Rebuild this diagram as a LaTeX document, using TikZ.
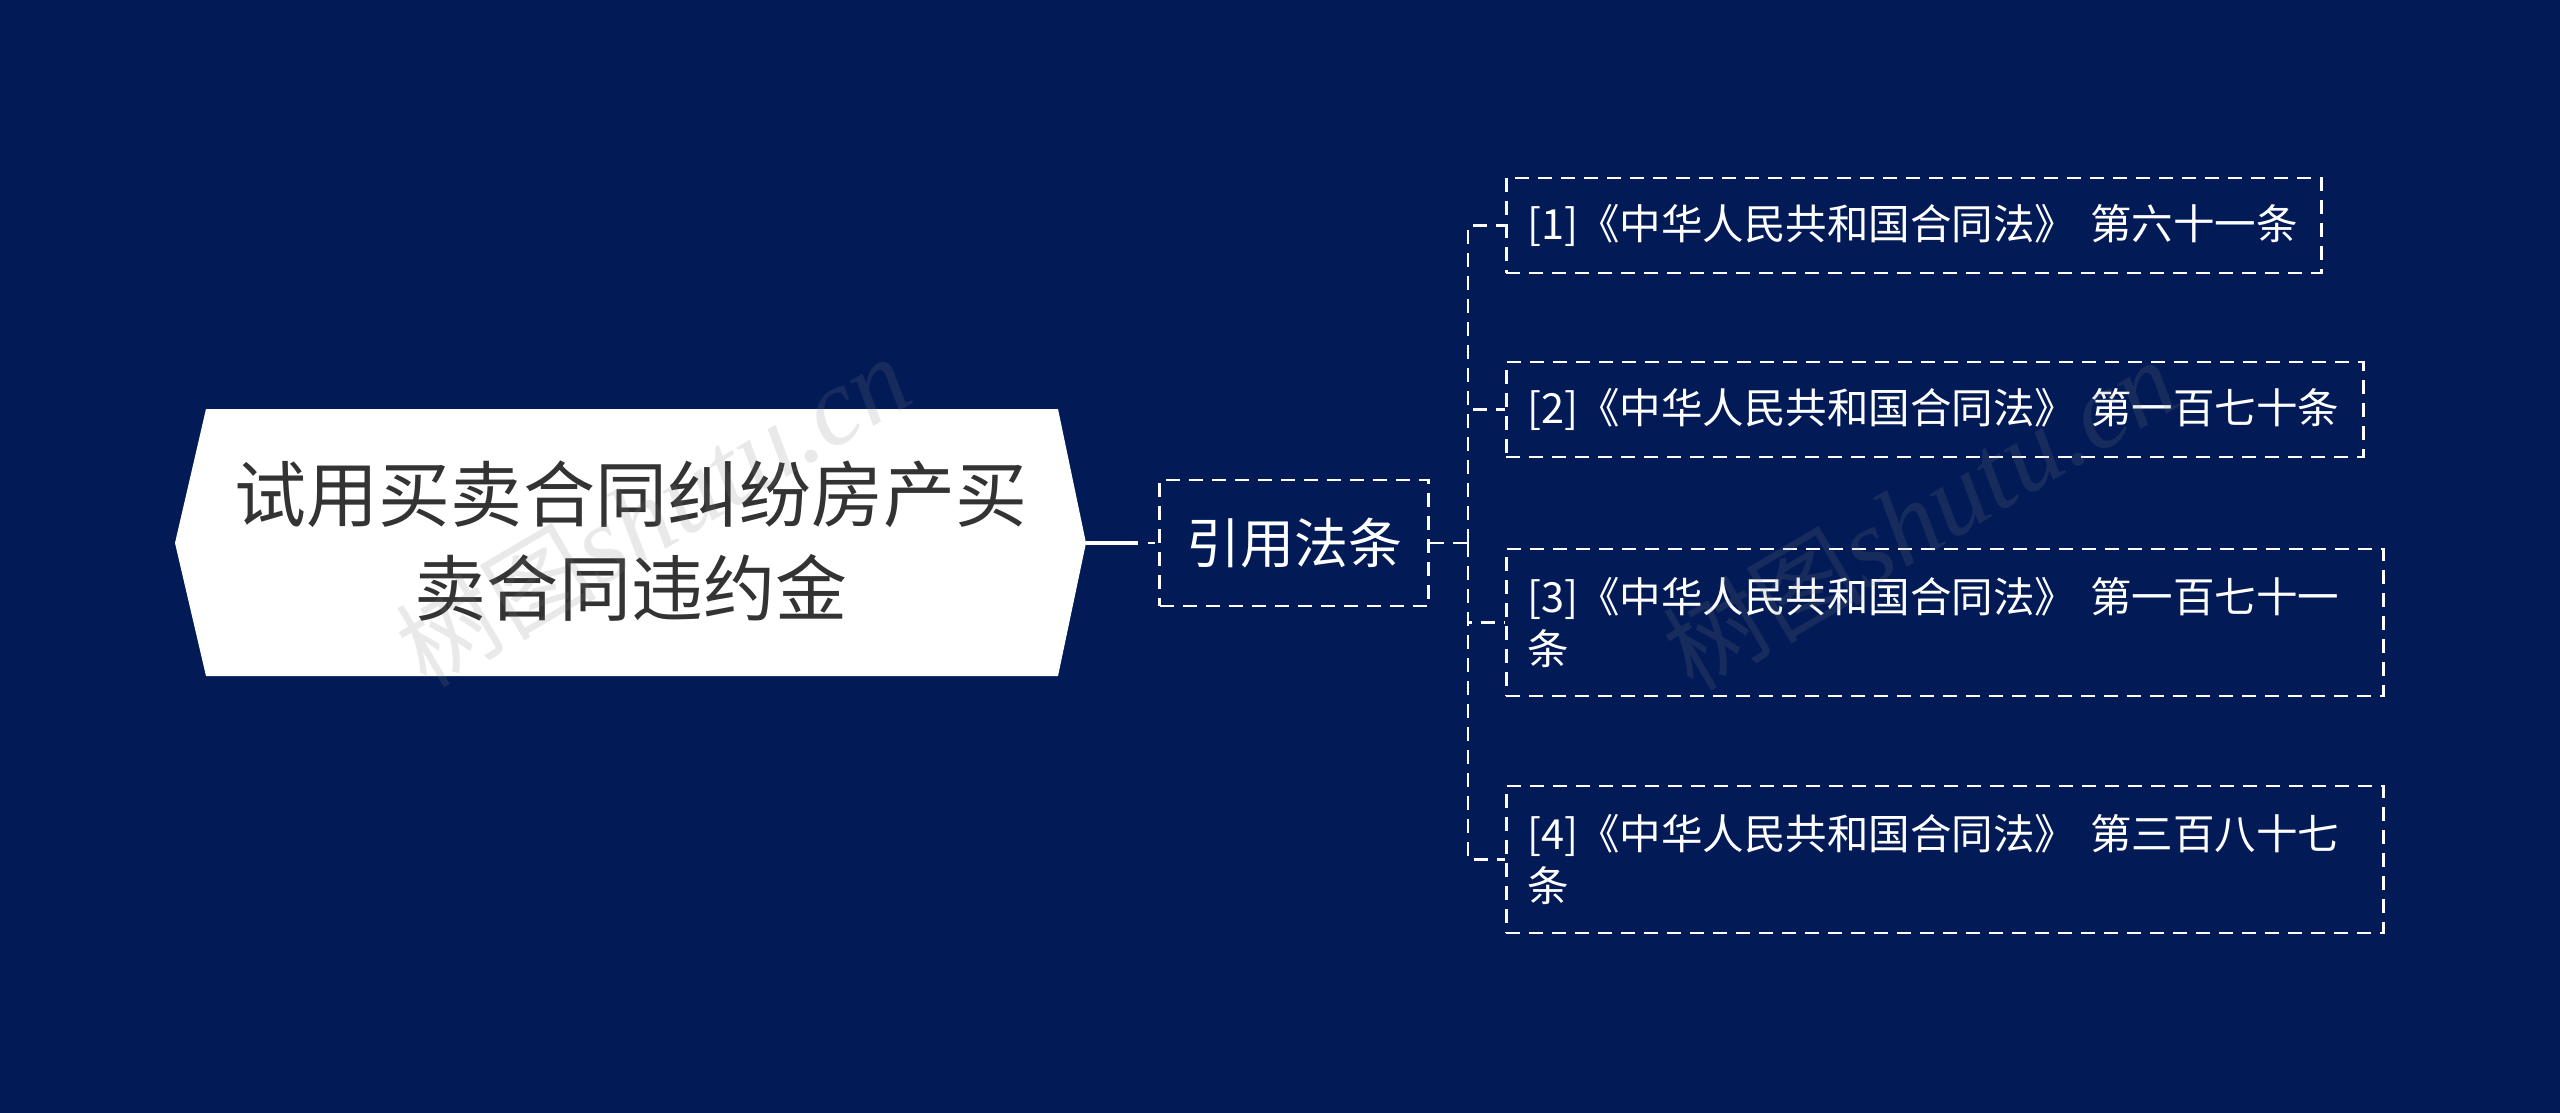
\documentclass[tikz,border=0pt]{standalone}
\usepackage{fontspec}
\setmainfont{Noto Sans CJK SC}
\newfontfamily\wmfont{Noto Sans CJK SC}
\newfontfamily\wmlatin{Liberation Serif}
\definecolor{bgnavy}{HTML}{021B57}
\definecolor{roottxt}{HTML}{333333}
\begin{document}
\begin{tikzpicture}[x=0.4pt,y=-0.4pt,
  dsh/.style={draw=white, line width=1pt, dash pattern=on 5.6pt off 3.6pt},
  leaf/.style={dsh, anchor=west, inner xsep=8.4pt, inner ysep=0pt, align=left,
    text=white, font=\fontsize{16.6}{20.9}\selectfont, minimum height=38pt},
  wm/.style={text=gray, opacity=0.17, font=\wmfont\fontsize{40}{40}\selectfont, rotate=30.5}
]
\fill[bgnavy] (0,0) rectangle (2560,1113);
\useasboundingbox (0,0) rectangle (2560,1113);

% root hexagon
\fill[white] (175,543) -- (206,409) -- (1058,409) -- (1086,543) -- (1058,676) -- (206,676) -- cycle;
\node[font=\fontsize{28.8}{37.4}\selectfont, text=roottxt, align=center] (root) at (631,541)
  {试用买卖合同纠纷房产买\\卖合同违约金};
\coordinate (rtip) at (1086,543);

% hub
\node[dsh, minimum width=107.6pt, minimum height=50.4pt, inner sep=0pt, text=white,
  font=\fontsize{21.6}{26}\selectfont] (hub) at (1294,543) {引用法条};

\coordinate (c1) at (1138,543);
\coordinate (c2) at (1148,543);
\coordinate (c3) at (1155,543);
\draw[white, line width=1.6pt] (rtip) -- (c1);
\draw[white, line width=1pt] (c2) -- (c3);

% leaves
\node[leaf, minimum width=326pt, text width=309.2pt] (l1) at (1505,225.5)
  {[1]《中华人民共和国合同法》~第六十一条};
\node[leaf, minimum width=342.8pt, text width=326pt] (l2) at (1505,409.5)
  {[2]《中华人民共和国合同法》~第一百七十条};
\node[leaf, minimum width=350.8pt, text width=334pt, minimum height=58.8pt] (l3) at (1505,622.5)
  {[3]《中华人民共和国合同法》~第一百七十一\\条};
\node[leaf, minimum width=350.8pt, text width=334pt, minimum height=58.8pt] (l4) at (1505,859.5)
  {[4]《中华人民共和国合同法》~第三百八十七\\条};

\coordinate (tr) at (1468,543);
\draw[dsh] (hub.east) -- (tr);
\draw[dsh] (tr) |- (l1.west);
\draw[dsh] (tr) |- (l2.west);
\draw[dsh] (tr) |- (l3.west);
\draw[dsh] (tr) |- (l4.west);

% watermarks
\node[wm] (wm1) at (653,512) {树图{\wmlatin\itshape\fontsize{44}{44}\selectfont shutu.cn}};
\node[wm] (wm2) at (1920,515) {树图{\wmlatin\itshape\fontsize{44}{44}\selectfont shutu.cn}};
\end{tikzpicture}
\end{document}
